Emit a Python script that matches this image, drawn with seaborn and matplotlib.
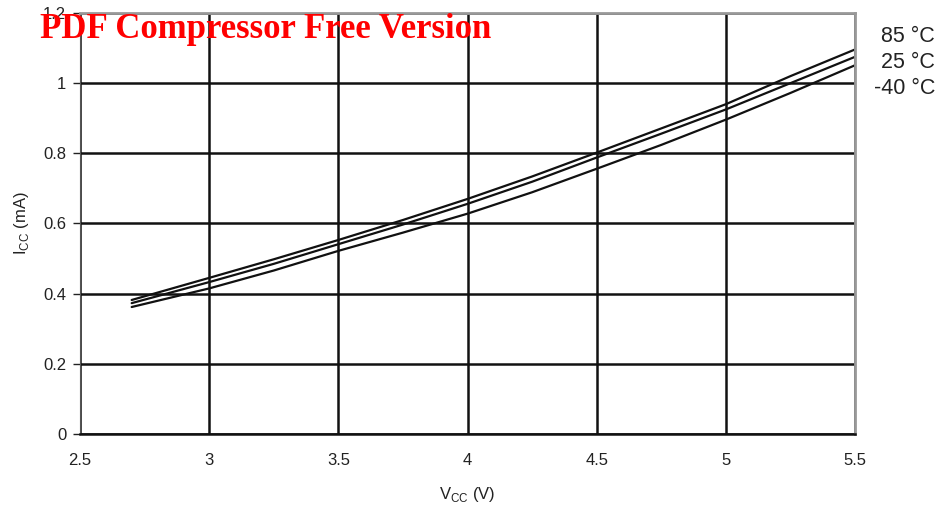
import numpy as np
import pandas as pd
import seaborn as sns
import matplotlib.pyplot as plt

# --- Data ---
vcc = [2.7, 3.0, 3.25, 3.5, 3.75, 4.0, 4.25, 4.5, 4.75, 5.0, 5.25, 5.5]
icc_85 = [0.382, 0.445, 0.498, 0.553, 0.610, 0.670, 0.734, 0.802, 0.871, 0.940, 1.020, 1.096]
icc_25 = [0.373, 0.433, 0.485, 0.541, 0.597, 0.656, 0.719, 0.788, 0.856, 0.925, 1.000, 1.075]
icc_m40 = [0.362, 0.415, 0.466, 0.522, 0.574, 0.628, 0.689, 0.756, 0.824, 0.896, 0.972, 1.051]
temps = ['85 °C', '25 °C', '-40 °C']

df = pd.concat([
    pd.DataFrame({'Vcc': vcc, 'Icc': vals, 'Temp': t})
    for t, vals in zip(temps, [icc_85, icc_25, icc_m40])
])

sns.set_style('white')
plt.rcParams['font.family'] = ['Liberation Sans', 'DejaVu Sans']

fig = plt.figure(figsize=(9.37, 5.17), dpi=100)
ax = fig.add_axes([0.0854, 0.1605, 0.8271, 0.8144])

sns.lineplot(data=df, x='Vcc', y='Icc', hue='Temp', palette=['#111111'] * 3,
             linewidth=1.6, legend=False, ax=ax)

ax.set_xlim(2.5, 5.5)
ax.set_ylim(0, 1.2)
ax.set_xticks(np.arange(2.5, 5.51, 0.5))
ax.set_xticklabels(['2.5', '3', '3.5', '4', '4.5', '5', '5.5'])
ax.set_yticks(np.arange(0, 1.21, 0.2))
ax.set_yticklabels(['0', '0.2', '0.4', '0.6', '0.8', '1', '1.2'])
ax.grid(True, color='#111111', linewidth=1.8)
ax.tick_params(axis='both', labelsize=12, colors='#222222', length=5, width=1,
               direction='out', left=True, bottom=True)
ax.tick_params(axis='x', pad=14, length=0)
ax.tick_params(axis='y', pad=5)

for s in ['top', 'right']:
    ax.spines[s].set_color('#999999')
    ax.spines[s].set_linewidth(2)
ax.spines['left'].set_color('#555555')
ax.spines['bottom'].set_color('#111111')
ax.spines['bottom'].set_linewidth(1.8)

ax.set_xlabel('V$_{\\mathregular{CC}}$ (V)', fontsize=12, color='#222222', labelpad=12)
ax.set_ylabel('I$_{\\mathregular{CC}}$ (mA)', fontsize=12, color='#222222', labelpad=9)

# temperature labels on the right
for t, yy in zip(temps, [37, 63, 89]):
    fig.text(935 / 937, 1 - yy / 517, t, ha='right', va='center', fontsize=15.5, color='#222222')

# watermark
fig.text(40 / 937, 1 - 29 / 517, 'PDF Compressor Free Version', ha='left', va='center',
         fontsize=25, color='red', fontweight='bold', family='Liberation Serif')

fig.savefig('out.png', dpi=100)
